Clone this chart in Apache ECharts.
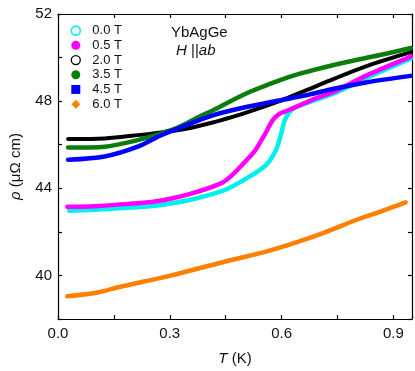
<!DOCTYPE html>
<html>
<head>
<meta charset="utf-8">
<script src="https://cdn.jsdelivr.net/npm/echarts@6/dist/echarts.min.js"></script>
<style>
html,body{margin:0;padding:0;background:#fff;}
#c{width:415px;height:371px;}
</style>
</head>
<body>
<div id="c"></div>
<script>
// ---- data ----
var names = ['0.0 T', '0.5 T', '2.0 T', '3.5 T', '4.5 T', '6.0 T'];

var t00 = [0.03, 0.10, 0.20, 0.26, 0.35, 0.44, 0.47, 0.52, 0.56, 0.585, 0.598, 0.607, 0.621, 0.639, 0.665, 0.69, 0.74, 0.83, 0.947];
var r00 = [42.97, 43.02, 43.12, 43.20, 43.45, 43.87, 44.10, 44.60, 45.10, 45.76, 46.44, 47.05, 47.50, 47.73, 47.90, 48.05, 48.35, 49.08, 49.95];

var t05 = [0.025, 0.10, 0.20, 0.26, 0.35, 0.44, 0.47, 0.49, 0.527, 0.554, 0.576, 0.594, 0.616, 0.652, 0.688, 0.737, 0.826, 0.947];
var r05 = [43.15, 43.18, 43.30, 43.39, 43.72, 44.25, 44.65, 45.00, 45.69, 46.44, 47.12, 47.42, 47.57, 47.83, 48.10, 48.41, 49.16, 50.04];

var t20 = [0.027, 0.125, 0.214, 0.286, 0.34, 0.415, 0.473, 0.505, 0.594, 0.647, 0.674, 0.737, 0.826, 0.947];
var r20 = [46.26, 46.29, 46.44, 46.59, 46.72, 47.02, 47.30, 47.47, 48.00, 48.37, 48.55, 49.00, 49.60, 50.25];

var t35 = [0.027, 0.125, 0.214, 0.277, 0.326, 0.38, 0.415, 0.505, 0.594, 0.647, 0.737, 0.826, 0.871, 0.947];
var r35 = [45.87, 45.91, 46.21, 46.52, 46.82, 47.29, 47.57, 48.35, 48.95, 49.25, 49.65, 49.98, 50.14, 50.44];

var t45 = [0.027, 0.125, 0.214, 0.277, 0.326, 0.415, 0.505, 0.594, 0.674, 0.737, 0.826, 0.947];
var r45 = [45.31, 45.46, 45.91, 46.44, 46.77, 47.35, 47.73, 48.03, 48.30, 48.56, 48.86, 49.16];

var t60 = [0.025, 0.098, 0.17, 0.299, 0.447, 0.572, 0.706, 0.795, 0.884, 0.933];
var r60 = [39.04, 39.19, 39.49, 39.98, 40.63, 41.16, 41.91, 42.51, 43.04, 43.35];

var colors = ['#00f0f0', '#ff00ff', '#000000', '#0b7d0b', '#0000ff', '#ff8000'];

function zip(a, b) { return a.map(function (v, i) { return [v, b[i]]; }); }
var seriesT = [t00, t05, t20, t35, t45, t60];
var seriesR = [r00, r05, r20, r35, r45, r60];
var widths = [4.5, 4.5, 4, 4.5, 4.5, 4.5];

var chart = echarts.init(document.getElementById('c'), null, {renderer: 'canvas'});
var FONT = '"Liberation Sans", Arial, Helvetica, sans-serif';

var axisLineStyle = {color: '#000', width: 1.2};

var series = names.map(function (n, i) {
  return {
    name: n,
    type: 'line',
    data: zip(seriesT[i], seriesR[i]),
    showSymbol: false,
    symbol: 'none',
    smooth: 0.3,
    lineStyle: {color: colors[i], width: widths[i], cap: 'round', join: 'round'},
    itemStyle: {color: colors[i]},
    animation: false
  };
});

var legendData = [
  {name: '0.0 T', icon: 'circle', itemStyle: {color: '#ffffff', borderColor: '#00f0f0', borderWidth: 1.6}},
  {name: '0.5 T', icon: 'circle', itemStyle: {color: '#ff00ff', borderWidth: 0}},
  {name: '2.0 T', icon: 'circle', itemStyle: {color: '#ffffff', borderColor: '#000000', borderWidth: 1.3}},
  {name: '3.5 T', icon: 'circle', itemStyle: {color: '#0b7d0b', borderWidth: 0}},
  {name: '4.5 T', icon: 'rect', itemStyle: {color: '#0000ff', borderWidth: 0}},
  {name: '6.0 T', icon: 'diamond', itemStyle: {color: '#ff8000', borderWidth: 0}}
];

var option = {
  backgroundColor: '#fff',
  animation: false,
  textStyle: {fontFamily: FONT},
  grid: {left: 58, right: 2, top: 14, bottom: 48, containLabel: false},
  legend: {
    orient: 'vertical',
    left: 70.5,
    top: 23.3,
    padding: 0,
    itemWidth: 9,
    itemHeight: 9,
    itemGap: 0,
    selectedMode: false,
    textStyle: {fontSize: 13, color: '#111', fontFamily: FONT, lineHeight: 14.7, padding: [0, 0, 0, 7]},
    data: legendData
  },
  xAxis: [{
    type: 'value', min: 0, max: 0.95, interval: 0.15,
    position: 'bottom',
    name: '{i|T} (K)',
    nameLocation: 'middle', nameGap: 32,
    nameTextStyle: {fontSize: 15, color: '#111', fontFamily: FONT,
      rich: {i: {fontStyle: 'italic', fontSize: 15, fontFamily: FONT, color: '#111'}}},
    axisLine: {show: true, onZero: false, lineStyle: axisLineStyle},
    axisTick: {show: true, inside: true, length: 4, lineStyle: axisLineStyle},
    axisLabel: {
      fontSize: 15, color: '#111', margin: 7, fontFamily: FONT,
      formatter: function (v) {
        var k = v / 0.3;
        return Math.abs(k - Math.round(k)) < 1e-6 ? v.toFixed(1) : '';
      }
    },
    splitLine: {show: false}
  }, {
    type: 'value', min: 0, max: 0.95, interval: 0.15,
    position: 'top',
    axisLine: {show: true, onZero: false, lineStyle: axisLineStyle},
    axisTick: {show: true, inside: true, length: 4, lineStyle: axisLineStyle},
    axisLabel: {show: false},
    splitLine: {show: false}
  }],
  yAxis: [{
    type: 'value', min: 38, max: 52, interval: 2,
    position: 'left',
    name: '{i|ρ} (μΩ cm)',
    nameLocation: 'middle', nameGap: 35, nameRotate: 90,
    nameTextStyle: {fontSize: 15, color: '#111', fontFamily: FONT,
      rich: {i: {fontStyle: 'italic', fontSize: 15, fontFamily: FONT, color: '#111'}}},
    axisLine: {show: true, onZero: false, lineStyle: axisLineStyle},
    axisTick: {show: true, inside: true, length: 4, lineStyle: axisLineStyle},
    axisLabel: {
      fontSize: 15, color: '#111', margin: 6, fontFamily: FONT,
      formatter: function (v) { return (Math.round(v) % 4 === 0) ? String(Math.round(v)) : ''; }
    },
    splitLine: {show: false}
  }, {
    type: 'value', min: 38, max: 52, interval: 2,
    position: 'right',
    axisLine: {show: true, onZero: false, lineStyle: axisLineStyle},
    axisTick: {show: true, inside: true, length: 4, lineStyle: axisLineStyle},
    axisLabel: {show: false},
    splitLine: {show: false}
  }],
  graphic: [{
    type: 'text', left: 171, top: 25,
    style: {text: 'YbAgGe', font: '15px ' + FONT, fill: '#111'}
  }, {
    type: 'text', left: 176, top: 43,
    style: {text: '{i|H} ||{i|ab}', font: '15px ' + FONT, fill: '#111',
      rich: {i: {fontStyle: 'italic', fontSize: 15, fontFamily: FONT, fill: '#111'}}}
  }],
  series: series
};
chart.setOption(option);
</script>
</body>
</html>
